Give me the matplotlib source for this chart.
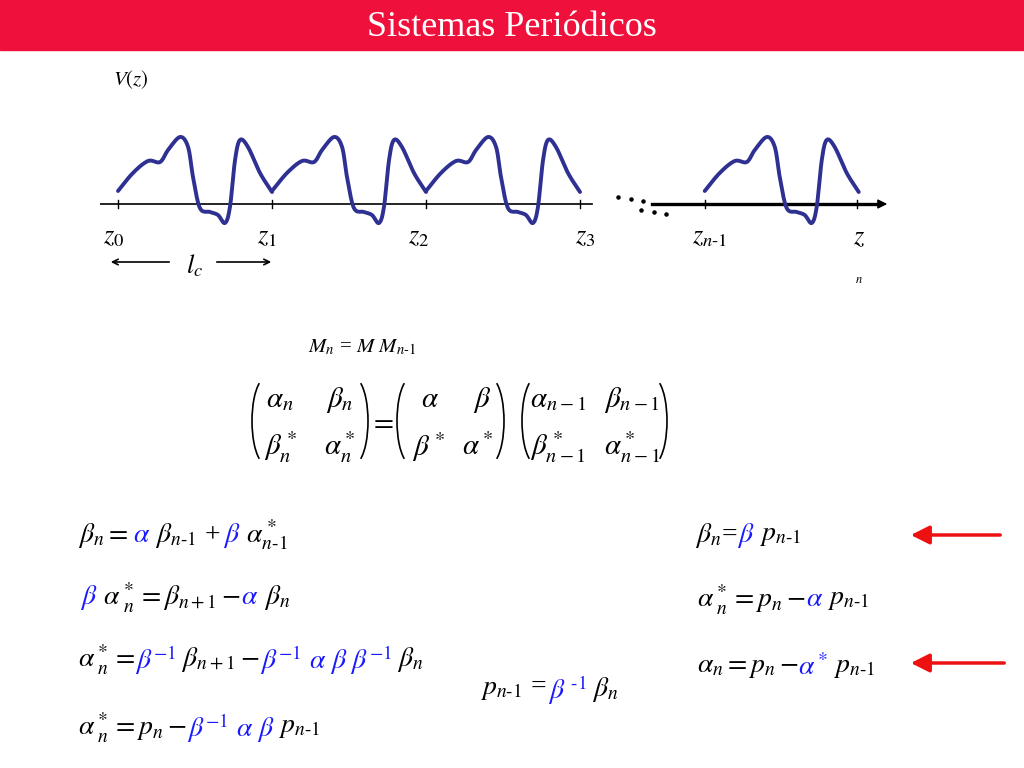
import matplotlib
matplotlib.use("Agg")
import matplotlib.pyplot as plt
import numpy as np
from matplotlib.patches import Arc

plt.rcParams['mathtext.fontset'] = 'stix'
plt.rcParams['font.family'] = ['Liberation Serif', 'DejaVu Serif']

# one period of V(z): position in units of the cell length, height in px-like units
period_u = [0, 0.097, 0.195, 0.273, 0.325, 0.403, 0.455, 0.487, 0.532, 0.597, 0.649, 0.695, 0.727, 0.760, 0.792, 0.844, 0.922, 1.0]
period_v = [13, 31, 43, 42, 54, 67, 57, 27, -4, -8, -11, -19, -3, 44, 64, 57, 31, 12]
cell_starts = [0, 1, 2, 3.81]
tick_pos = [0, 1, 2, 3, 3.81, 4.8]

def smooth(x, y, n=12):
    # Catmull-Rom curve through the read points (drawing only)
    P = np.column_stack([x, y]).astype(float)
    P = np.vstack([P[0] - (P[1] - P[0]), P, P[-1] + (P[-1] - P[-2])])
    out = []
    t = np.linspace(0, 1, n, endpoint=False)[:, None]
    for i in range(1, len(P) - 2):
        p0, p1, p2, p3 = P[i-1], P[i], P[i+1], P[i+2]
        out.append(0.5 * ((2*p1) + (-p0 + p2)*t + (2*p0 - 5*p1 + 4*p2 - p3)*t**2 + (-p0 + 3*p1 - 3*p2 + p3)*t**3))
    out.append(P[-2][None, :])
    o = np.vstack(out)
    return o[:, 0], o[:, 1]

BLUE = '#1a1aff'
NAVY = '#2e3192'
W, H = 1024, 768
fig = plt.figure(figsize=(W/100, H/100), dpi=100)
ax = fig.add_axes([0, 0, 1, 1])
ax.set_xlim(0, W); ax.set_ylim(H, 0); ax.axis('off')

ax.add_patch(plt.Rectangle((0, 0), W, 50, color='#f0103c', zorder=0))
ax.text(512, 27, 'Sistemas Periódicos', color='white', fontsize=26, ha='center', va='center')

x0p, x1p, y0p, y1p = 100, 890, 120, 230
cax = fig.add_axes([x0p/W, 1 - y1p/H, (x1p-x0p)/W, (y1p-y0p)/H])
ux = lambda px: (px - 118) / 154.0
cax.set_xlim(ux(x0p), ux(x1p)); cax.set_ylim(204-y1p, 204-y0p); cax.axis('off')
u = np.array(period_u); v = np.array(period_v)
for s in cell_starts:
    sx, sy = smooth(u + s, v)
    cax.plot(sx, sy, color=NAVY, lw=2.8, solid_capstyle='round', zorder=3)
cax.plot([ux(100), ux(592)], [0, 0], color='black', lw=1.2)
cax.plot([ux(652), ux(880)], [0, 0], color='black', lw=2.4)
cax.annotate('', xy=(ux(890), 0), xytext=(ux(870), 0),
             arrowprops=dict(arrowstyle='-|>', color='black', lw=1, mutation_scale=14))
for t in tick_pos:
    cax.plot([t, t], [-4, 4], color='black', lw=1)
cax.scatter([ux(618), ux(631), ux(643), ux(641), ux(654), ux(666)], [7, 5, 3, -6, -8, -10], s=5, color='black')

fs = 19
ax.text(113, 80, '$V(z)$', fontsize=15, va='center')
for x, s in [(103, '$z_0$'), (257, '$z_1$'), (408, '$z_2$'), (575, '$z_3$'), (692, '$z_{n\\text{-}1}$'), (853, '$z$')]:
    ax.text(x, 238, s, fontsize=fs, va='center')
ax.text(855, 280, '$n$', fontsize=9, va='center')
ax.text(186, 266, '$l_c$', fontsize=fs, va='center')
ax.annotate('', xy=(108, 262), xytext=(172, 262), arrowprops=dict(arrowstyle='->', lw=1.2))
ax.annotate('', xy=(274, 262), xytext=(214, 262), arrowprops=dict(arrowstyle='->', lw=1.2))

ax.text(308, 347, '$M_n$ = $M$ $M_{n\\text{-}1}$', fontsize=15, va='center')

mfs = 21
entries = [(280, 400, r'$\alpha_n$'), (340, 400, r'$\beta_n$'), (280, 447, r'$\beta^*_n$'), (340, 447, r'$\alpha^*_n$'),
           (430, 400, r'$\alpha$'), (482, 400, r'$\beta$'), (428, 447, r'$\beta^*$'), (478, 447, r'$\alpha^*$'),
           (558, 400, r'$\alpha_{n-1}$'), (632, 400, r'$\beta_{n-1}$'), (558, 447, r'$\beta^*_{n-1}$'), (632, 447, r'$\alpha^*_{n-1}$')]
for x, y, s in entries:
    ax.text(x, y, s, fontsize=mfs, ha='center', va='center')
ax.text(381, 422, '$=$', fontsize=mfs, ha='center', va='center')
for xl, xr in [(252, 368), (397, 504), (522, 667)]:
    ax.add_patch(Arc((xl + 14, 421), 28, 86, theta1=100, theta2=260, lw=1.2))
    ax.add_patch(Arc((xr - 14, 421), 28, 86, theta1=-80, theta2=80, lw=1.2))

def seq(x, y, parts, size=20):
    r = fig.canvas.get_renderer()
    for s, c in parts:
        t = ax.text(x, y, s, fontsize=size, color=c, va='center')
        bb = t.get_window_extent(renderer=r)
        x += bb.width * (W / fig.bbox.width)

k, b = 'black', BLUE
seq(78, 535, [(r'$\beta_n = $ ', k), (r'$\alpha$', b), (r'$\ \beta_{n\text{-}1}$ + ', k), (r'$\beta$', b), (r'$\ \alpha^*_{n\text{-}1}$', k)])
seq(80, 598, [(r'$\beta$', b), (r'$\ \alpha^*_{\ n} = \beta_{n+1} - $', k), (r'$\alpha$', b), (r'$\ \beta_n$', k)])
seq(78, 660, [(r'$\alpha^*_{\ n} = $', k), (r'$\beta^{-1}$', b), (r'$\ \beta_{n+1} - $', k), (r'$\beta^{-1}\ \alpha\ \beta\ \beta^{-1}$', b), (r'$\ \beta_n$', k)])
seq(78, 728, [(r'$\alpha^*_{\ n} = p_n - $', k), (r'$\beta^{-1}\ \alpha\ \beta$', b), (r'$\ p_{n\text{-}1}$', k)])
seq(480, 690, [(r'$p_{n\text{-}1}$ = ', k), (r'$\beta^{\ \text{-}1}$', b), (r'$\ \beta_n$', k)])
seq(695, 535, [(r'$\beta_n$=', k), (r'$\beta$', b), (r'$\ p_{n\text{-}1}$', k)])
seq(697, 600, [(r'$\alpha^*_{\ n} = p_n - $', k), (r'$\alpha$', b), (r'$\ p_{n\text{-}1}$', k)])
seq(697, 668, [(r'$\alpha_n = p_n - $', k), (r'$\alpha^*$', b), (r'$\ p_{n\text{-}1}$', k)])

for y, xs in [(535, 1003), (663, 1007)]:
    ax.annotate('', xy=(908, y), xytext=(xs, y),
                arrowprops=dict(arrowstyle='-|>', color='#ee1111', lw=2.5, mutation_scale=28))

fig.savefig('out.png', dpi=100)
